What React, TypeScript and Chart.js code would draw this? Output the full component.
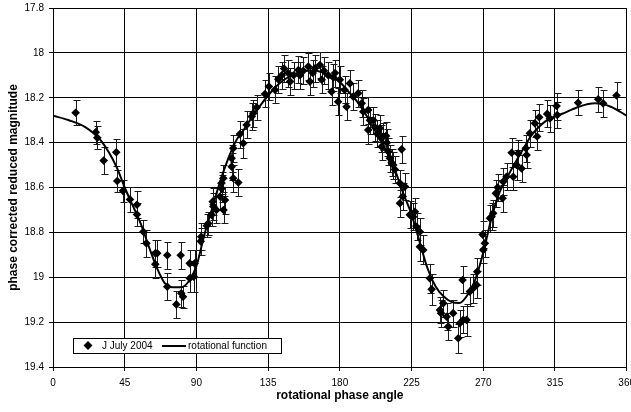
import React, { useEffect, useRef } from 'react';
import { Chart, registerables } from 'chart.js';

Chart.register(...registerables);

const xTicks = [0, 45, 90, 135, 180, 225, 270, 315, 360];
const xTickLabels = ['0', '45', '90', '135', '180', '225', '270', '315', '360'];
const yTicks = [17.8, 18, 18.2, 18.4, 18.6, 18.8, 19, 19.2, 19.4];
const yTickLabels = ['17.8', '18', '18.2', '18.4', '18.6', '18.8', '19', '19.2', '19.4'];

const seriesLabels = ['J July 2004', 'rotational function'];
const xTitle = 'rotational phase angle';
const yTitle = 'phase corrected reduced magnitude';

// observations: rotational phase angle, magnitude, error
const obsAngle = [
  14.2, 26.8, 27.8, 31.8, 39.7, 40.3, 43.9, 48.3, 52.7, 52.7, 56.7, 58.6, 64.2, 65.4, 64.2, 71.7, 71.7, 77.4, 80.1, 80.5,
  81.6, 85.8, 85.8, 88.3, 88.9, 92.7, 93.0, 96.5, 97.4, 99.5, 100.2, 100.6, 102.5, 104.8, 105.8, 105.8, 106.9, 107.0, 107.9, 112.1,
  112.1, 113.1, 113.1, 116.3, 117.3, 119.4, 121.5, 124.7, 125.7, 127.8, 133.0, 135.5, 139.3, 141.4, 143.5, 145.0, 147.6, 148.8, 151.0, 154.0,
  155.0, 157.0, 160.2, 161.2, 163.0, 164.4, 167.5, 168.6, 170.0, 172.7, 174.8, 176.0, 177.0, 178.9, 180.0, 183.0, 184.2, 186.3, 188.4, 191.5,
  193.7, 194.7, 197.8, 197.8, 198.9, 201.0, 202.0, 203.5, 205.1, 206.0, 206.2, 207.2, 209.0, 209.5, 210.5, 211.4, 212.5, 213.5, 214.5, 217.7,
  217.7, 218.8, 219.5, 220.8, 223.9, 226.0, 227.1, 228.1, 230.2, 230.2, 232.3, 236.5, 237.6, 242.8, 243.5, 244.9, 247.0, 248.0, 251.1, 254.3,
  255.3, 257.0, 257.4, 259.5, 261.6, 263.7, 265.8, 266.2, 269.6, 270.0, 271.0, 274.2, 275.2, 276.2, 277.9, 279.0, 282.1, 282.5, 284.6, 287.8,
  288.8, 290.9, 291.9, 294.0, 296.7, 297.2, 299.2, 302.4, 303.8, 305.1, 310.1, 311.8, 316.0, 316.4, 329.5, 342.1, 345.2, 353.6,
];
const obsMag = [
  18.267, 18.354, 18.378, 18.48, 18.443, 18.571, 18.615, 18.653, 18.677, 18.72, 18.797, 18.849, 18.893, 18.893, 18.942, 18.902, 19.042, 19.121, 18.902, 19.071,
  19.087, 18.938, 19.005, 18.997, 18.938, 18.84, 18.82, 18.77, 18.76, 18.722, 18.663, 18.685, 18.7, 18.64, 18.604, 18.58, 18.559, 18.7, 18.656, 18.507,
  18.47, 18.559, 18.425, 18.578, 18.362, 18.403, 18.321, 18.284, 18.269, 18.243, 18.183, 18.15, 18.165, 18.118, 18.1, 18.07, 18.09, 18.128, 18.1, 18.076,
  18.1, 18.08, 18.061, 18.128, 18.09, 18.069, 18.054, 18.12, 18.08, 18.1, 18.173, 18.11, 18.09, 18.218, 18.12, 18.165, 18.24, 18.136, 18.195, 18.18,
  18.225, 18.262, 18.255, 18.344, 18.3, 18.3, 18.332, 18.36, 18.336, 18.38, 18.418, 18.373, 18.37, 18.4, 18.44, 18.47, 18.49, 18.5, 18.52, 18.581,
  18.67, 18.43, 18.64, 18.596, 18.722, 18.73, 18.708, 18.775, 18.797, 18.864, 18.878, 19.005, 19.054, 19.146, 19.16, 19.116, 19.176, 19.22, 19.16, 19.272,
  19.205, 19.012, 19.19, 19.19, 19.064, 19.049, 19.034, 18.975, 18.81, 18.878, 18.849, 18.737, 18.73, 18.715, 18.626, 18.6, 18.648, 18.574, 18.552, 18.445,
  18.552, 18.5, 18.448, 18.515, 18.425, 18.455, 18.358, 18.314, 18.373, 18.287, 18.272, 18.292, 18.237, 18.277, 18.222, 18.207, 18.225, 18.19,
];
const obsErr = [
  0.055, 0.05, 0.05, 0.06, 0.06, 0.05, 0.05, 0.055, 0.06, 0.05, 0.05, 0.06, 0.06, 0.06, 0.06, 0.06, 0.06, 0.06, 0.06, 0.06,
  0.05, 0.06, 0.06, 0.07, 0.06, 0.06, 0.06, 0.05, 0.05, 0.05, 0.06, 0.06, 0.06, 0.06, 0.06, 0.05, 0.06, 0.06, 0.06, 0.06,
  0.06, 0.06, 0.06, 0.06, 0.06, 0.065, 0.06, 0.06, 0.06, 0.055, 0.06, 0.06, 0.06, 0.06, 0.06, 0.06, 0.06, 0.06, 0.06, 0.06,
  0.06, 0.06, 0.06, 0.06, 0.06, 0.06, 0.06, 0.06, 0.06, 0.06, 0.06, 0.06, 0.06, 0.06, 0.06, 0.06, 0.06, 0.06, 0.06, 0.06,
  0.06, 0.06, 0.06, 0.06, 0.06, 0.06, 0.06, 0.06, 0.06, 0.06, 0.06, 0.06, 0.06, 0.06, 0.06, 0.06, 0.06, 0.06, 0.06, 0.06,
  0.06, 0.06, 0.06, 0.06, 0.06, 0.06, 0.06, 0.06, 0.06, 0.065, 0.065, 0.065, 0.07, 0.06, 0.06, 0.06, 0.06, 0.06, 0.06, 0.065,
  0.06, 0.06, 0.06, 0.07, 0.065, 0.065, 0.06, 0.06, 0.06, 0.06, 0.06, 0.06, 0.06, 0.06, 0.06, 0.06, 0.06, 0.06, 0.06, 0.065,
  0.06, 0.065, 0.06, 0.06, 0.06, 0.06, 0.06, 0.06, 0.06, 0.06, 0.06, 0.06, 0.06, 0.06, 0.055, 0.055, 0.06, 0.06,
];

// rotational function
const fitAngle = [
  0, 10, 20, 30, 40, 45, 50, 55, 60, 65, 70, 75, 80, 85, 90, 95, 100, 105, 110, 115, 120, 125, 130, 135, 140, 145, 150, 155, 160, 165,
  170, 175, 180, 185, 190, 195, 200, 205, 210, 215, 220, 225, 230, 235, 240, 245, 250, 255, 260, 265, 270, 275, 280, 285, 290, 295, 300,
  310, 320, 330, 340, 350, 360,
];
const fitMag = [
  18.28, 18.3, 18.33, 18.39, 18.51, 18.6, 18.68, 18.76, 18.86, 18.955, 19.025, 19.045, 19.045, 19.02, 18.95, 18.81, 18.69, 18.57, 18.47, 18.39,
  18.34, 18.285, 18.235, 18.19, 18.15, 18.12, 18.1, 18.085, 18.08, 18.08, 18.09, 18.105, 18.13, 18.17, 18.21, 18.26, 18.32, 18.38, 18.45, 18.53,
  18.63, 18.72, 18.84, 18.96, 19.04, 19.085, 19.11, 19.115, 19.08, 19.01, 18.89, 18.74, 18.625, 18.555, 18.49, 18.43, 18.37, 18.3, 18.27, 18.24,
  18.225, 18.24, 18.28,
];

const FONT = "'Liberation Sans', Arial, sans-serif";

const errorBarPlugin = {
  id: 'errorBars',
  beforeDatasetsDraw(chart: any) {
    const { ctx, chartArea, scales } = chart;
    const x = scales.x;
    const y = scales.y;
    ctx.save();
    ctx.beginPath();
    ctx.rect(chartArea.left, chartArea.top, chartArea.right - chartArea.left, chartArea.bottom - chartArea.top);
    ctx.clip();
    ctx.strokeStyle = '#1a1a1a';
    ctx.lineWidth = 1;
    ctx.beginPath();
    for (let i = 0; i < obsAngle.length; i++) {
      const px = Math.round(x.getPixelForValue(obsAngle[i])) + 0.5;
      const y1 = Math.round(y.getPixelForValue(obsMag[i] - obsErr[i])) + 0.5;
      const y2 = Math.round(y.getPixelForValue(obsMag[i] + obsErr[i])) + 0.5;
      ctx.moveTo(px, y1);
      ctx.lineTo(px, y2);
      ctx.moveTo(px - 3, y1);
      ctx.lineTo(px + 4, y1);
      ctx.moveTo(px - 3, y2);
      ctx.lineTo(px + 4, y2);
    }
    ctx.stroke();
    ctx.restore();
  },
};

const legendPlugin = {
  id: 'insideLegend',
  afterDraw(chart: any) {
    const { ctx, chartArea } = chart;
    const left = chartArea.left + 20;
    const top = chartArea.bottom - 29;
    const w = 208;
    const h = 15;
    const cy = top + h / 2;
    ctx.save();
    ctx.fillStyle = '#fff';
    ctx.fillRect(left, top, w, h);
    ctx.strokeStyle = '#000';
    ctx.lineWidth = 1;
    ctx.strokeRect(left + 0.5, top + 0.5, w, h);
    // diamond
    ctx.fillStyle = '#000';
    ctx.beginPath();
    const dx = left + 15;
    ctx.moveTo(dx - 4.5, cy);
    ctx.lineTo(dx, cy - 4.5);
    ctx.lineTo(dx + 4.5, cy);
    ctx.lineTo(dx, cy + 4.5);
    ctx.closePath();
    ctx.fill();
    ctx.font = `10px ${FONT}`;
    ctx.textBaseline = 'middle';
    ctx.textAlign = 'left';
    ctx.fillText(seriesLabels[0], left + 29, cy + 0.5);
    ctx.beginPath();
    ctx.lineWidth = 2;
    ctx.moveTo(left + 89, cy + 0.5);
    ctx.lineTo(left + 113, cy + 0.5);
    ctx.stroke();
    ctx.fillText(seriesLabels[1], left + 115, cy + 0.5);
    ctx.restore();
  },
};

export default function App() {
  const canvasRef = useRef<HTMLCanvasElement | null>(null);

  useEffect(() => {
    document.body.style.margin = '0';
    const canvas = canvasRef.current;
    if (!canvas) return;
    const chart = new Chart(canvas, {
      type: 'scatter',
      data: {
        datasets: [
          {
            label: seriesLabels[0],
            data: obsAngle.map((a, i) => ({ x: a, y: obsMag[i] })),
            pointStyle: 'rectRot',
            pointRadius: 4.3,
            pointBackgroundColor: '#000',
            pointBorderColor: '#000',
            pointBorderWidth: 0,
            showLine: false,
          },
          {
            label: seriesLabels[1],
            data: fitAngle.map((a, i) => ({ x: a, y: fitMag[i] })),
            showLine: true,
            borderColor: '#000',
            borderWidth: 2,
            pointRadius: 0,
            cubicInterpolationMode: 'monotone',
          } as any,
        ],
      },
      options: {
        responsive: false,
        animation: false,
        events: [],
        layout: { padding: { left: 0, right: 4, top: 8, bottom: 0 } },
        plugins: {
          legend: { display: false },
          tooltip: { enabled: false },
        },
        scales: {
          x: {
            type: 'linear',
            min: 0,
            max: 360,
            afterBuildTicks: (scale: any) => {
              scale.ticks = xTicks.map((v) => ({ value: v }));
            },
            afterFit: (scale: any) => {
              scale.height = 45;
              scale.paddingLeft = 0;
              scale.paddingRight = 0;
            },
            ticks: {
              callback: (_v: any, i: number) => xTickLabels[i],
              font: { family: FONT, size: 10 },
              color: '#000',
              padding: 6,
              maxRotation: 0,
              autoSkip: false,
            },
            grid: { color: '#000', lineWidth: 1, tickLength: 4, drawTicks: true },
            border: { display: true, color: '#000', width: 1 },
            title: {
              display: true,
              text: xTitle,
              font: { family: FONT, size: 12, weight: 'bold' },
              color: '#000',
              padding: { top: 0, bottom: 9 },
            },
          },
          y: {
            type: 'linear',
            reverse: true,
            min: 17.8,
            max: 19.4,
            afterBuildTicks: (scale: any) => {
              scale.ticks = yTicks.map((v) => ({ value: v }));
            },
            afterFit: (scale: any) => {
              scale.width = 53;
              scale.paddingTop = 0;
              scale.paddingBottom = 0;
            },
            ticks: {
              callback: (_v: any, i: number) => yTickLabels[i],
              font: { family: FONT, size: 10 },
              color: '#000',
              padding: 5,
              autoSkip: false,
            },
            grid: { color: '#000', lineWidth: 1, tickLength: 4, drawTicks: true },
            border: { display: true, color: '#000', width: 1 },
            title: {
              display: true,
              text: yTitle,
              font: { family: FONT, size: 12, weight: 'bold' },
              color: '#000',
              padding: { top: 6, bottom: 0 },
            },
          },
        },
      },
      plugins: [errorBarPlugin, legendPlugin],
    } as any);
    return () => chart.destroy();
  }, []);

  return (
    <div style={{ width: 631, height: 412, background: '#fff' }}>
      <canvas ref={canvasRef} width={631} height={412} style={{ display: 'block' }} />
    </div>
  );
}
